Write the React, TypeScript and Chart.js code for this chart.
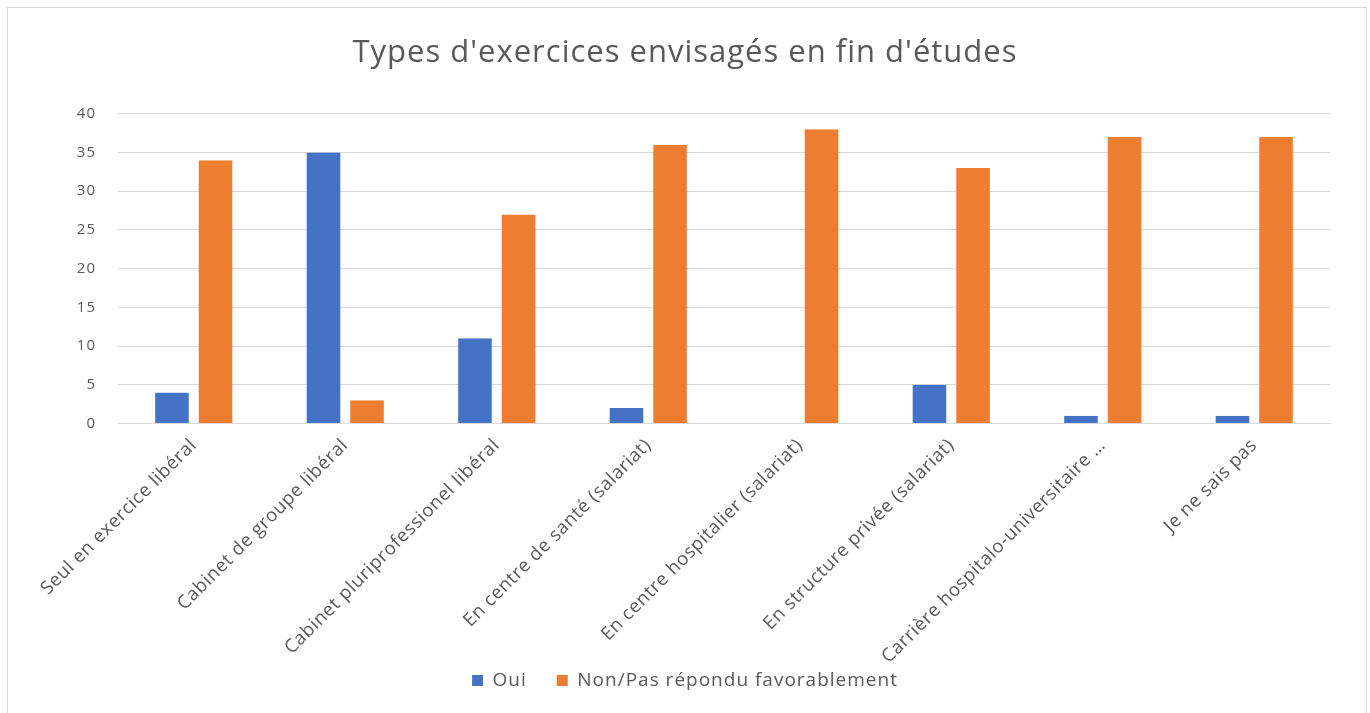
import React, { useEffect, useRef } from "react";
import { Chart, registerables } from "chart.js";

Chart.register(...registerables);

const categories = [
  "Seul en exercice libéral",
  "Cabinet de groupe libéral",
  "Cabinet pluriprofessionel libéral",
  "En centre de santé (salariat)",
  "En centre hospitalier (salariat)",
  "En structure privée (salariat)",
  "Carrière hospitalo-universitaire …",
  "Je ne sais pas",
];
const ouiValues = [4, 35, 11, 2, 0, 5, 1, 1];
const nonValues = [34, 3, 27, 36, 38, 33, 37, 37];
const seriesNames = ["Oui", "Non/Pas répondu favorablement"];
const chartTitle = "Types d'exercices envisagés en fin d'études";

const FONT = "'Open Sans', 'DejaVu Sans', sans-serif";
const TEXT = "#595959";
const GRID = "#d9d9d9";

const spacingPlugin = {
  id: "letterSpacing",
  beforeUpdate(chart: any) {
    chart.ctx.letterSpacing = "1px";
  },
  beforeDraw(chart: any) {
    chart.ctx.letterSpacing = "1px";
  },
};

export default function App() {
  const ref = useRef<HTMLCanvasElement | null>(null);
  useEffect(() => {
    document.body.style.margin = "0";
    const ctx = ref.current!.getContext("2d")!;
    const gapBorder = { left: 5, right: 5, top: 0, bottom: 0 };
    const chart = new Chart(ctx, {
      type: "bar",
      plugins: [spacingPlugin],
      data: {
        labels: categories,
        datasets: [
          {
            label: seriesNames[0],
            data: ouiValues,
            backgroundColor: "#4472C4",
            borderColor: "rgba(0,0,0,0)",
            borderWidth: gapBorder,
            borderSkipped: false,
            barPercentage: 1,
            categoryPercentage: 0.575,
          },
          {
            label: seriesNames[1],
            data: nonValues,
            backgroundColor: "#ED7D31",
            borderColor: "rgba(0,0,0,0)",
            borderWidth: gapBorder,
            borderSkipped: false,
            barPercentage: 1,
            categoryPercentage: 0.575,
          },
        ],
      },
      options: {
        responsive: false,
        animation: false,
        layout: { padding: { left: 0, right: 0, top: 0, bottom: 13 } },
        plugins: {
          title: {
            display: true,
            text: chartTitle,
            color: TEXT,
            font: { family: FONT, size: 31, weight: "normal", lineHeight: 1.2 },
            padding: { top: 35, bottom: 41.5 },
          },
          legend: {
            display: true,
            position: "bottom",
            labels: {
              color: TEXT,
              font: { family: FONT, size: 19 },
              boxWidth: 11,
              boxHeight: 11,
              padding: 30,
            },
          },
          tooltip: { enabled: false },
        },
        scales: {
          x: {
            grid: { display: false, drawTicks: false },
            border: { display: true, color: GRID },
            ticks: {
              color: TEXT,
              font: { family: FONT, size: 18.5 },
              minRotation: 45,
              maxRotation: 45,
              autoSkip: false,
              padding: 11,
            },
            afterFit: (s: any) => {
              s.height = 217.5;
              s._computeLabelArea = () => ({
                top: 0,
                left: 0,
                bottom: s.chart.height,
                right: s.chart.width,
              });
              if (!s._spacingWrapped) {
                s._spacingWrapped = true;
                const orig = s.drawLabels;
                s.drawLabels = function (area: any) {
                  const c = this.ctx;
                  const prev = c.letterSpacing;
                  c.letterSpacing = "0.6px";
                  orig.call(this, area);
                  c.letterSpacing = prev;
                };
              }
            },
          },
          y: {
            min: 0,
            max: 40,
            ticks: {
              stepSize: 5,
              color: TEXT,
              font: { family: FONT, size: 15 },
              padding: 22,
            },
            grid: { color: GRID, drawTicks: false },
            border: { display: false },
            afterFit: (s: any) => {
              s.width = 118;
            },
          },
          y2: {
            position: "right",
            display: true,
            grid: { display: false, drawTicks: false },
            ticks: { display: false },
            border: { display: false },
            afterFit: (s: any) => {
              s.width = 40;
            },
          },
        },
      },
    });
    return () => chart.destroy();
  }, []);
  return (
    <div style={{ position: "relative", width: 1370, height: 713, overflow: "hidden", background: "#fff" }}>
      <canvas ref={ref} width={1370} height={713} style={{ display: "block" }} />
      <div
        style={{
          position: "absolute",
          left: 7,
          top: 7,
          width: 1358,
          height: 720,
          border: "1px solid #d9d9d9",
          pointerEvents: "none",
        }}
      />
    </div>
  );
}
